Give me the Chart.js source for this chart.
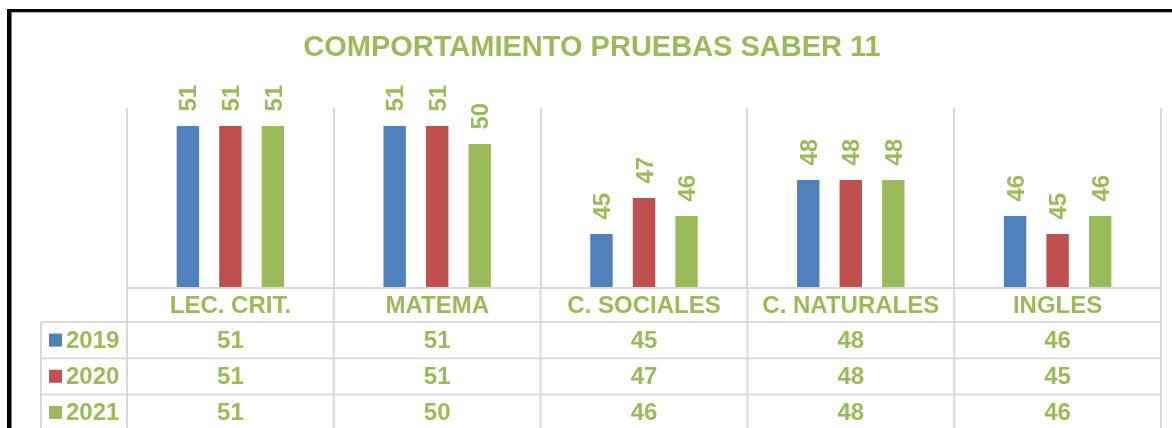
<!DOCTYPE html>
<html>
<head>
<meta charset="utf-8">
<script src="https://cdn.jsdelivr.net/npm/chart.js@4.4.1/dist/chart.umd.min.js"></script>
<style>
  html, body { margin: 0; padding: 0; background: #ffffff; }
  #wrap { width: 1172px; height: 428px; }
</style>
</head>
<body>
<div id="wrap"><canvas id="chart" width="1172" height="428"></canvas></div>
<script>
// Data
const chartTitle = 'COMPORTAMIENTO PRUEBAS SABER 11';
const categories = ['LEC. CRIT.', 'MATEMA', 'C. SOCIALES', 'C. NATURALES', 'INGLES'];
const years = ['2019', '2020', '2021'];
const values2019 = [51, 51, 45, 48, 46];
const values2020 = [51, 51, 47, 48, 45];
const values2021 = [51, 50, 46, 48, 46];
const yMin = 42;
const yMax = 52;

const colors = ['#4F81BD', '#C0504D', '#9BBB59'];
const textGreen = '#9BBB59';
const lineGray = '#D9D9D9';
const fontFamily = '"Liberation Sans", Arial, sans-serif';

const seriesValues = [values2019, values2020, values2021];

// Frame, title and the data table under the axis
const tablePlugin = {
  id: 'tablePlugin',
  beforeDraw(chart) {
    const ctx = chart.ctx;
    ctx.save();
    ctx.fillStyle = '#ffffff';
    ctx.fillRect(0, 0, chart.width, chart.height);
    // black outer frame (left + top)
    ctx.fillStyle = '#000000';
    ctx.fillRect(7, 9, 4.5, chart.height);
    ctx.fillRect(7, 9, chart.width, 3.5);
    ctx.fillStyle = '#e6e6e6';
    ctx.fillRect(11.5, 12.5, chart.width, 1);
    ctx.restore();
  },
  afterDraw(chart) {
    const ctx = chart.ctx;
    const area = chart.chartArea;
    const x = chart.scales.x;
    const n = categories.length;
    const step = x.getPixelForValue(1) - x.getPixelForValue(0);
    const left = x.getPixelForValue(0) - step / 2;
    const right = x.getPixelForValue(n - 1) + step / 2;
    const legendLeft = 41;
    const top = area.bottom;
    const headerH = 34;
    const rowH = 36.2;
    const rowTops = [top + headerH, top + headerH + rowH, top + headerH + rowH * 2];
    const bottom = top + headerH + rowH * 3 - 1;

    ctx.save();
    ctx.strokeStyle = lineGray;
    ctx.lineWidth = 2;
    ctx.beginPath();
    // horizontal lines
    ctx.moveTo(left, top); ctx.lineTo(right, top);
    rowTops.forEach(y => { ctx.moveTo(legendLeft, y); ctx.lineTo(right, y); });
    ctx.moveTo(11.5, bottom); ctx.lineTo(chart.width, bottom);
    // vertical lines
    for (let i = 0; i <= n; i++) {
      const vx = left + step * i;
      ctx.moveTo(vx, top); ctx.lineTo(vx, bottom);
    }
    ctx.moveTo(legendLeft, rowTops[0]); ctx.lineTo(legendLeft, bottom);
    ctx.stroke();

    // title
    ctx.fillStyle = textGreen;
    ctx.font = 'bold 29px ' + fontFamily;
    ctx.textAlign = 'center';
    ctx.textBaseline = 'middle';
    ctx.fillText(chartTitle, 592, 48);

    // category header row
    ctx.font = 'bold 24px ' + fontFamily;
    categories.forEach((c, i) => {
      ctx.fillText(c, x.getPixelForValue(i), top + headerH / 2 + 1);
    });

    // value rows
    seriesValues.forEach((vals, r) => {
      const cy = rowTops[r] + rowH / 2 + 1;
      vals.forEach((v, i) => {
        ctx.fillText(String(v), x.getPixelForValue(i), cy);
      });
      // legend key
      ctx.fillStyle = colors[r];
      ctx.fillRect(49, cy - 7.5, 13, 13);
      ctx.fillStyle = textGreen;
      ctx.textAlign = 'left';
      ctx.fillText(years[r], 66, cy);
      ctx.textAlign = 'center';
    });
    ctx.restore();
  }
};

// Rotated value labels above the bars
const barLabels = {
  id: 'barLabels',
  afterDatasetsDraw(chart) {
    const ctx = chart.ctx;
    ctx.save();
    ctx.fillStyle = textGreen;
    ctx.font = 'bold 24px ' + fontFamily;
    ctx.textAlign = 'left';
    ctx.textBaseline = 'alphabetic';
    chart.data.datasets.forEach((ds, di) => {
      const meta = chart.getDatasetMeta(di);
      meta.data.forEach((bar, i) => {
        ctx.save();
        ctx.translate(bar.x + 8.6, bar.y - 14.5);
        ctx.rotate(-Math.PI / 2);
        ctx.fillText(String(ds.data[i]), 0, 0);
        ctx.restore();
      });
    });
    ctx.restore();
  }
};

new Chart(document.getElementById('chart'), {
  type: 'bar',
  data: {
    labels: categories,
    datasets: years.map((y, i) => ({
      label: y,
      data: seriesValues[i],
      backgroundColor: colors[i],
      borderWidth: 0,
      categoryPercentage: 0.617,
      barPercentage: 0.527
    }))
  },
  options: {
    responsive: false,
    animation: false,
    devicePixelRatio: 1,
    layout: { padding: { top: 108, left: 127, right: 11, bottom: 140 } },
    plugins: {
      legend: { display: false },
      title: { display: false },
      tooltip: { enabled: false }
    },
    scales: {
      x: {
        display: true,
        grid: { offset: true, drawTicks: false, color: lineGray, lineWidth: 2 },
        border: { display: false },
        ticks: { display: false }
      },
      y: {
        display: false,
        min: yMin,
        max: yMax
      }
    }
  },
  plugins: [tablePlugin, barLabels]
});
</script>
</body>
</html>
